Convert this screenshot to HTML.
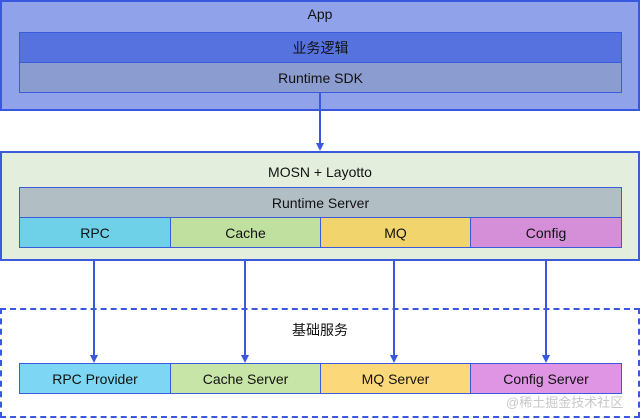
<!DOCTYPE html><html><head><meta charset="utf-8"><style>
body{margin:0;width:640px;height:419px;background:#fff;position:relative;overflow:hidden;font-family:"Liberation Sans","Noto Sans CJK SC",sans-serif;font-size:14px;color:#111}
div{position:absolute;box-sizing:border-box}
.c{display:flex;align-items:center;justify-content:center}
.b{border:1.5px solid #3b5bdb}
</style></head><body>
<div class="b" style="left:0;top:0;width:640px;height:111px;background:#8fa2ea;border-width:2px;border-color:#3a57e0"></div>
<div class="c" style="left:0;top:2px;width:640px;height:24px;font-size:14px">App</div>
<div class="b c" style="left:19px;top:32px;width:603px;height:31px;background:#5672df">业务逻辑</div>
<div class="b c" style="left:19px;top:62px;width:603px;height:31px;background:#8a9cd0">Runtime SDK</div>

<div class="b" style="left:0;top:151px;width:640px;height:110px;background:#e3eedd;border-width:2px"></div>
<div class="c" style="left:0;top:160px;width:640px;height:24px">MOSN + Layotto</div>
<div class="b c" style="left:19px;top:187px;width:603px;height:31px;background:#b1bfc4">Runtime Server</div>
<div class="b c" style="left:19px;top:217px;width:152px;height:31px;background:#6fd1e8">RPC</div>
<div class="b c" style="left:170px;top:217px;width:151px;height:31px;background:#bfe09f">Cache</div>
<div class="b c" style="left:320px;top:217px;width:151px;height:31px;background:#f2d46d">MQ</div>
<div class="b c" style="left:470px;top:217px;width:152px;height:31px;background:#d58fd8">Config</div>

<div style="left:0;top:308px;width:640px;height:110px;border:2px dashed #3a57e0"></div>
<div class="c" style="left:0;top:318px;width:640px;height:24px">基础服务</div>
<div class="b c" style="left:19px;top:363px;width:152px;height:31px;background:#7dd6f3">RPC Provider</div>
<div class="b c" style="left:170px;top:363px;width:151px;height:31px;background:#c8e5a8">Cache Server</div>
<div class="b c" style="left:320px;top:363px;width:151px;height:31px;background:#fbd97a">MQ Server</div>
<div class="b c" style="left:470px;top:363px;width:152px;height:31px;background:#df95e4">Config Server</div>
<div style="left:506px;top:392px;font-size:13px;color:#c8c8c8">@稀土掘金技术社区</div>

<svg style="position:absolute;left:0;top:0" width="640" height="419">
<g stroke="#3a57e0" stroke-width="2" fill="#3a57e0">
<line x1="320" y1="93" x2="320" y2="144"/><polygon points="316,143 324,143 320,151" stroke="none"/>
<line x1="94" y1="261" x2="94" y2="356"/><polygon points="90,355 98,355 94,363" stroke="none"/>
<line x1="245" y1="261" x2="245" y2="356"/><polygon points="241,355 249,355 245,363" stroke="none"/>
<line x1="394" y1="261" x2="394" y2="356"/><polygon points="390,355 398,355 394,363" stroke="none"/>
<line x1="546" y1="261" x2="546" y2="356"/><polygon points="542,355 550,355 546,363" stroke="none"/>
</g></svg>
</body></html>
